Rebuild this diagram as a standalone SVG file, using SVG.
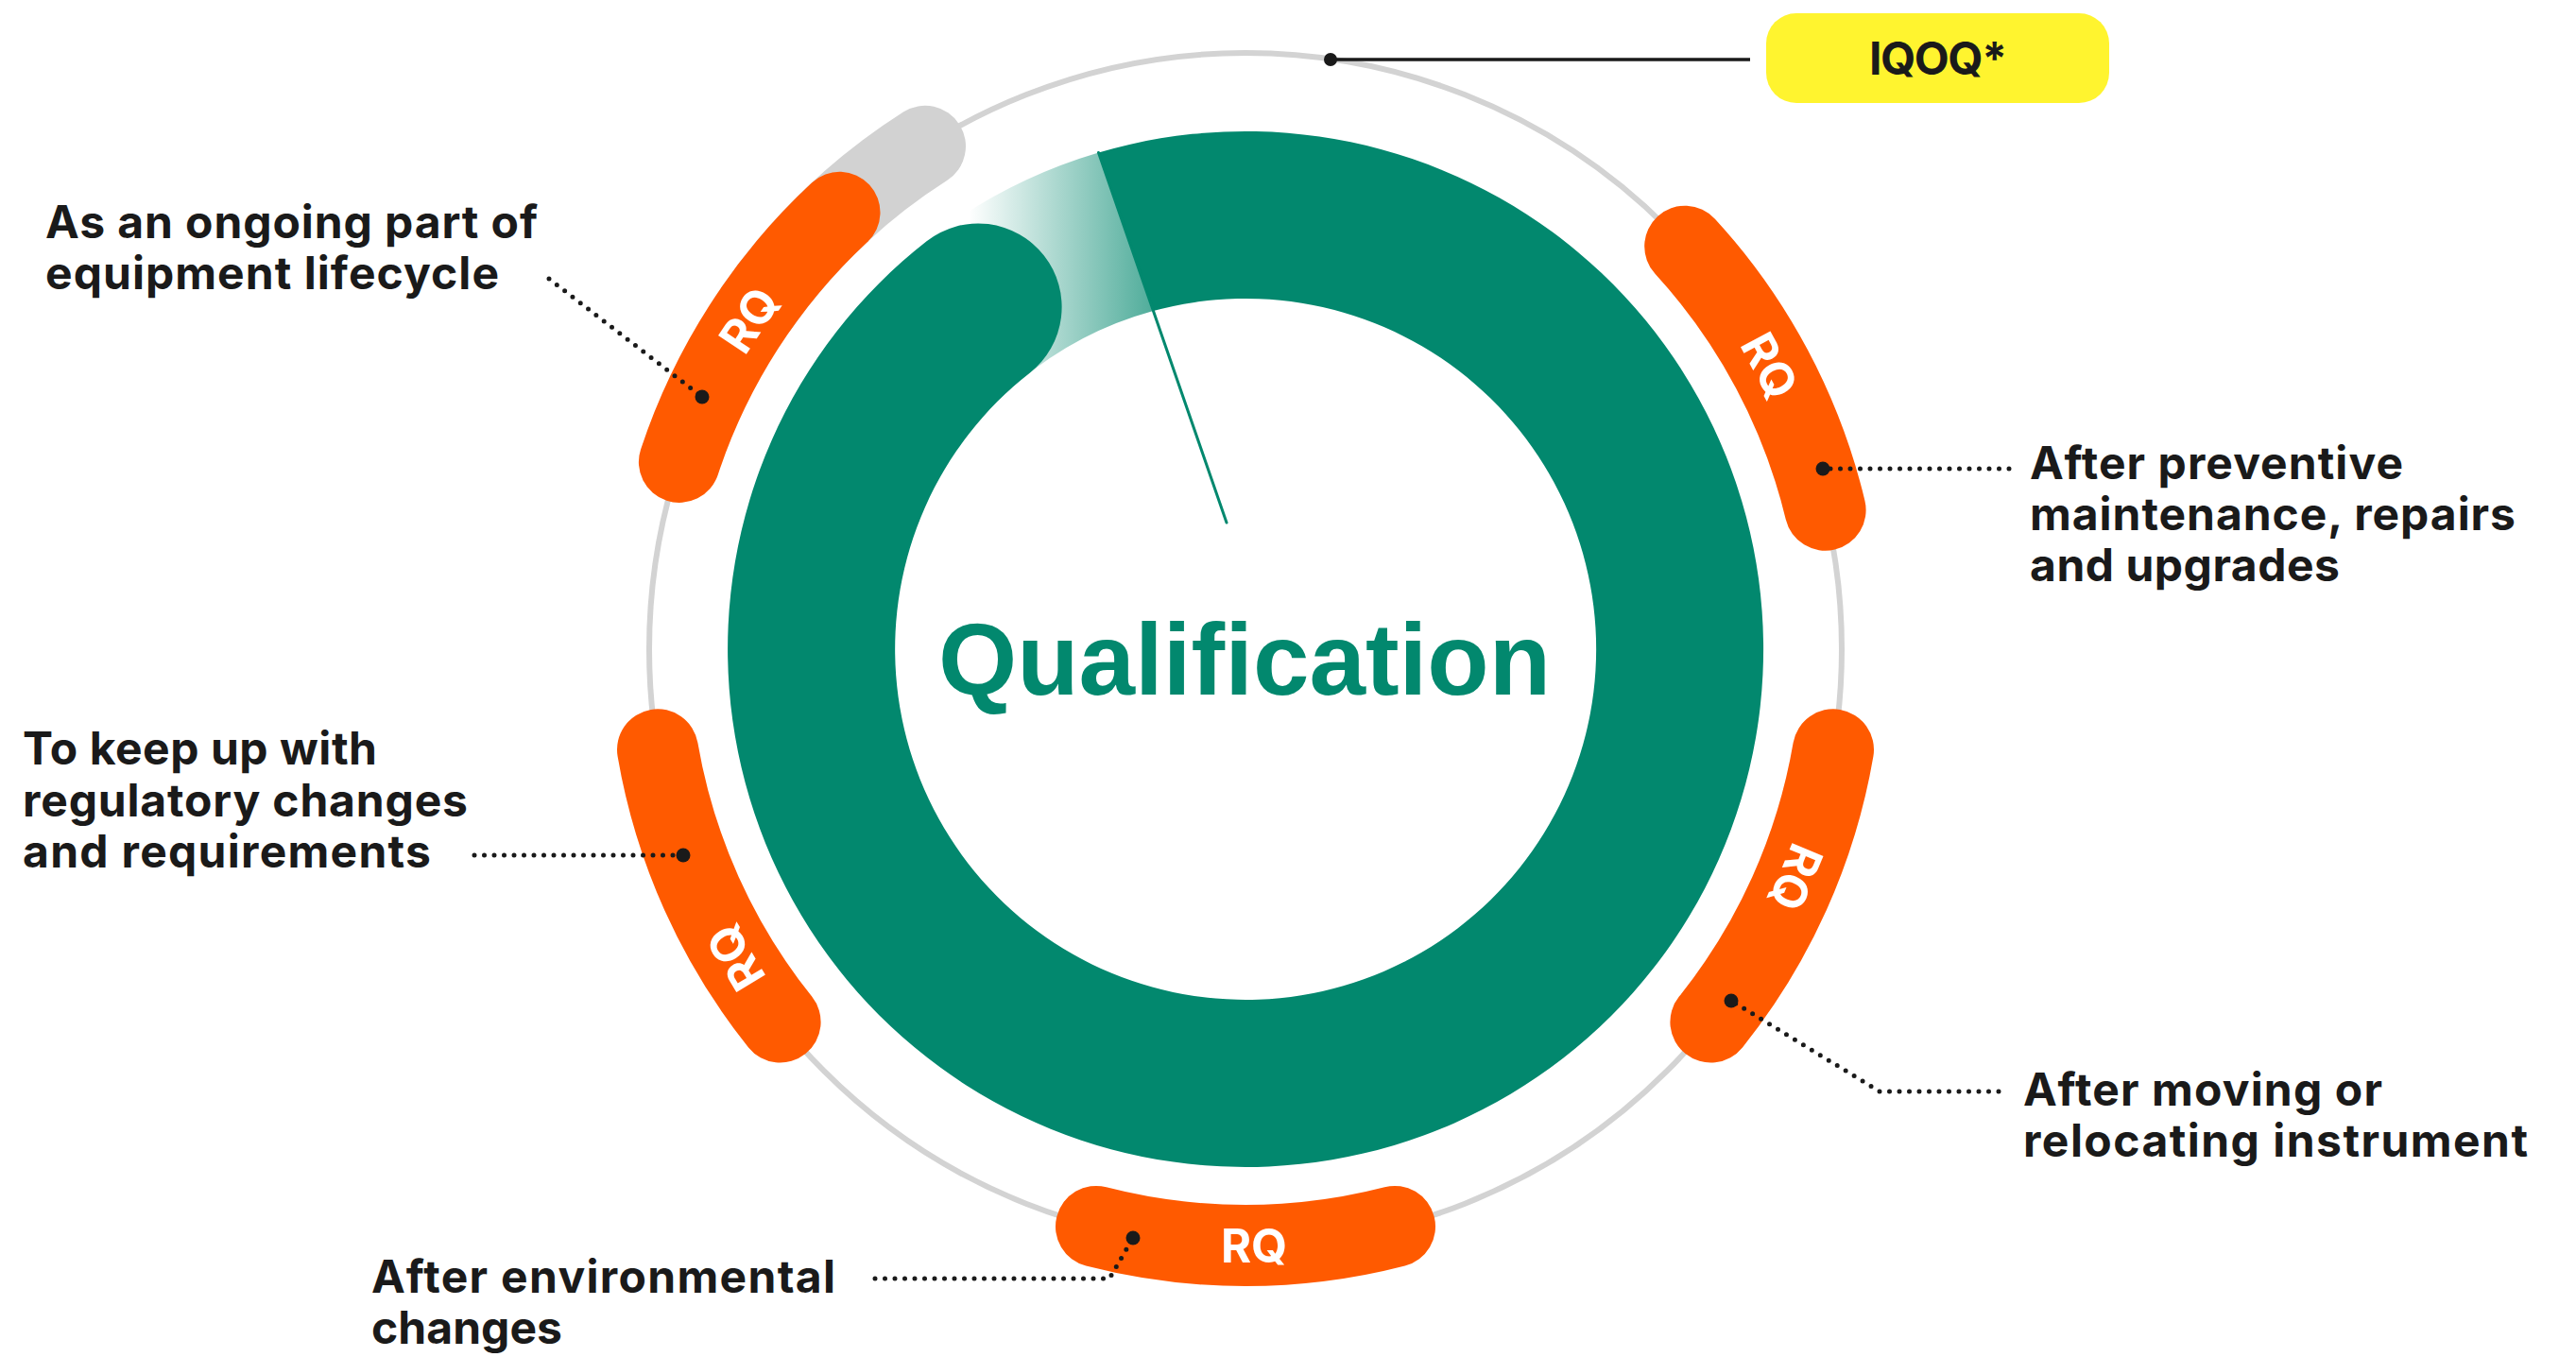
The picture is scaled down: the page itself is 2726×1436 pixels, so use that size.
<svg xmlns="http://www.w3.org/2000/svg" width="2726" height="1436" viewBox="0 0 2726 1436">
  <defs>
    <linearGradient id="tailGrad" gradientUnits="userSpaceOnUse" x1="1025" y1="0" x2="1222" y2="0">
      <stop offset="0" stop-color="#02886E" stop-opacity="0"/>
      <stop offset="1" stop-color="#02886E" stop-opacity="0.7"/>
    </linearGradient>
    <style>
      .track { fill: none; stroke: #D3D3D3; stroke-width: 6; }
      .band { fill: none; stroke: #FF5A00; stroke-width: 86; stroke-linecap: round; }
      .gband { fill: none; stroke: #D2D2D2; stroke-width: 86; stroke-linecap: round; }
      .rq { font-family: Inter, "Liberation Sans", sans-serif; font-weight: 700; font-size: 49px; fill: #FFFFFF; text-anchor: middle; }
      .lbl { font-family: Inter, "Liberation Sans", sans-serif; font-weight: 700; font-size: 48px; fill: #1A1A1A; }
      .dots { fill: none; stroke: #1A1A1A; stroke-width: 5; stroke-linecap: round; stroke-linejoin: round; stroke-dasharray: 0 10.5; }
      .end { fill: #1A1A1A; }
    </style>
  </defs>
  <rect width="2726" height="1436" fill="#FFFFFF"/>

  <g id="track">
    <circle class="track" cx="1318" cy="687" r="631"/>
  </g>

  <g id="qualification-ring">
    <path d="M 965.7 267.2 A 548 548 0 0 1 1162.5 161.5 L 1219.5 329.3 A 371 371 0 0 0 1079.5 402.8 Z" fill="url(#tailGrad)"/>
    <path d="M 1162.5 161.5 A 548 548 0 1 1 980.6 255.2 A 88.5 88.5 0 0 1 1089.6 394.7 A 371 371 0 1 0 1219.5 329.3 Z" fill="#02886E"/>
    <line x1="1162.5" y1="161.5" x2="1298" y2="553" stroke="#02886E" stroke-width="3" stroke-linecap="round"/>
    <text x="1317" y="735" font-family="'Liberation Sans', Arial, sans-serif" font-weight="700" font-size="107" fill="#02886E" text-anchor="middle">Qualification</text>
  </g>

  <g id="gray-tail">
    <path class="gband" d="M 801.1 325.1 A 631 631 0 0 1 979.0 154.8"/>
  </g>

  <g id="rq-top-left">
    <path class="band" d="M 718.9 488.9 A 631 631 0 0 1 888.5 224.8"/>
    <text class="rq" transform="translate(792.5 338.4) rotate(-56.4)" x="0" y="18">RQ</text>
  </g>
  <g id="rq-top-right">
    <path class="band" d="M 1783.2 260.7 A 631 631 0 0 1 1931.6 539.7"/>
    <text class="rq" transform="translate(1873 386.9) rotate(61.6)" x="0" y="18">RQ</text>
  </g>
  <g id="rq-right-lower">
    <path class="band" d="M 1940.0 793.3 A 631 631 0 0 1 1810.4 1081.5"/>
    <text class="rq" transform="translate(1901 928.5) rotate(112.5)" x="0" y="18">RQ</text>
  </g>
  <g id="rq-bottom">
    <path class="band" d="M 1160.0 1297.9 A 631 631 0 0 0 1476.0 1297.9"/>
    <text class="rq" x="1327" y="1336">RQ</text>
  </g>
  <g id="rq-left-lower">
    <path class="band" d="M 825.6 1081.5 A 631 631 0 0 1 696.0 793.3"/>
    <text class="rq" transform="translate(778 1013.5) rotate(-121.2)" x="0" y="18">RQ</text>
  </g>

  <g id="iqoq">
    <rect x="1869" y="14" width="363" height="95" rx="32" ry="32" fill="#FFF42F"/>
    <text class="lbl" x="2051" y="79" text-anchor="middle" textLength="146" lengthAdjust="spacing">IQOQ*</text>
  </g>

  <g id="label-top-left">
    <text class="lbl" x="48" y="252" textLength="521" lengthAdjust="spacing">As an ongoing part of</text>
    <text class="lbl" x="48" y="306" textLength="480" lengthAdjust="spacing">equipment lifecycle</text>
  </g>
  <g id="label-top-right">
    <text class="lbl" x="2148" y="507" textLength="395" lengthAdjust="spacing">After preventive</text>
    <text class="lbl" x="2148" y="561" textLength="514" lengthAdjust="spacing">maintenance, repairs</text>
    <text class="lbl" x="2148" y="615" textLength="328" lengthAdjust="spacing">and upgrades</text>
  </g>
  <g id="label-left-lower">
    <text class="lbl" x="24" y="809" textLength="375" lengthAdjust="spacing">To keep up with</text>
    <text class="lbl" x="24" y="864" textLength="471" lengthAdjust="spacing">regulatory changes</text>
    <text class="lbl" x="24" y="918" textLength="432" lengthAdjust="spacing">and requirements</text>
  </g>
  <g id="label-bottom">
    <text class="lbl" x="393" y="1368" textLength="491" lengthAdjust="spacing">After environmental</text>
    <text class="lbl" x="393" y="1422" textLength="202" lengthAdjust="spacing">changes</text>
  </g>
  <g id="label-right-lower">
    <text class="lbl" x="2141" y="1170" textLength="380" lengthAdjust="spacing">After moving or</text>
    <text class="lbl" x="2141" y="1224" textLength="534" lengthAdjust="spacing">relocating instrument</text>
  </g>

  <g id="connectors">
    <line x1="1408" y1="63" x2="1852" y2="63" stroke="#1A1A1A" stroke-width="3.5"/>
    <circle class="end" cx="1408" cy="63" r="7"/>
    <path class="dots" d="M 581 295 L 743 420"/>
    <circle class="end" cx="743" cy="420" r="7.5"/>
    <path class="dots" d="M 2126 496 L 1929 496"/>
    <circle class="end" cx="1929" cy="496" r="7.5"/>
    <path class="dots" d="M 502 905 L 723 905"/>
    <circle class="end" cx="723" cy="905" r="7.5"/>
    <path class="dots" d="M 926 1353 L 1174 1353 L 1199 1310"/>
    <circle class="end" cx="1199" cy="1310" r="7.5"/>
    <path class="dots" d="M 2115 1155 L 1989 1155 L 1832 1059"/>
    <circle class="end" cx="1832" cy="1059" r="7.5"/>
  </g>
</svg>
